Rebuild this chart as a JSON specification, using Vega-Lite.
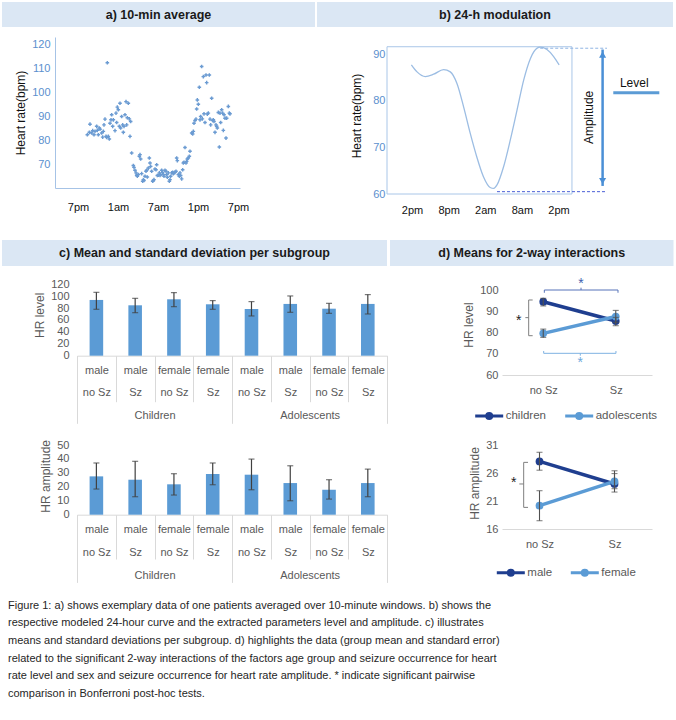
{
"$schema": "https://vega.github.io/schema/vega-lite/v6.json",
"padding": {"left": 2, "top": 2, "right": 0, "bottom": 2},
"config": {"view": {"stroke": null}, "font": "Liberation Sans", "axis": {"grid": false, "labelOverlap": false, "labelFont": "Liberation Sans", "titleFont": "Liberation Sans", "titleFontWeight": "normal"}, "legend": {"labelFont": "Liberation Sans"}},
"datasets": {
"a": [{"h":1.4,"v":82.2},{"h":1.7,"v":83.2},{"h":1.8,"v":86.6},{"h":2.05,"v":82.9},{"h":2.2,"v":83.9},{"h":2.4,"v":82.2},{"h":2.55,"v":83.6},{"h":2.8,"v":85.7},{"h":2.9,"v":84.0},{"h":3.05,"v":82.2},{"h":3.2,"v":85.0},{"h":3.3,"v":84.5},{"h":3.55,"v":82.9},{"h":3.7,"v":81.2},{"h":3.8,"v":83.6},{"h":3.9,"v":86.3},{"h":4.05,"v":88.7},{"h":4.2,"v":81.5},{"h":4.3,"v":81.1},{"h":4.4,"v":112.2},{"h":4.55,"v":81.5},{"h":4.7,"v":80.4},{"h":4.8,"v":87.0},{"h":4.95,"v":88.4},{"h":5.05,"v":90.5},{"h":5.2,"v":85.7},{"h":5.3,"v":88.4},{"h":5.55,"v":83.9},{"h":5.7,"v":91.2},{"h":5.8,"v":87.3},{"h":5.9,"v":93.7},{"h":6.05,"v":92.6},{"h":6.2,"v":85.7},{"h":6.3,"v":95.3},{"h":6.4,"v":85.0},{"h":6.55,"v":89.8},{"h":6.7,"v":86.3},{"h":6.8,"v":83.2},{"h":6.9,"v":85.7},{"h":7.05,"v":90.5},{"h":7.2,"v":96.0},{"h":7.3,"v":86.3},{"h":7.4,"v":89.3},{"h":7.55,"v":95.3},{"h":7.7,"v":88.8},{"h":7.8,"v":81.5},{"h":7.9,"v":87.7},{"h":8.05,"v":74.6},{"h":8.3,"v":69.4},{"h":8.4,"v":68.6},{"h":8.55,"v":67.4},{"h":8.7,"v":66.3},{"h":8.8,"v":65.3},{"h":8.9,"v":64.9},{"h":9.05,"v":65.6},{"h":9.2,"v":73.2},{"h":9.3,"v":73.9},{"h":9.4,"v":72.1},{"h":9.55,"v":66.0},{"h":9.7,"v":62.8},{"h":9.8,"v":63.5},{"h":9.9,"v":63.1},{"h":10.05,"v":64.9},{"h":10.2,"v":67.0},{"h":10.3,"v":67.4},{"h":10.4,"v":64.6},{"h":10.55,"v":68.3},{"h":10.7,"v":72.5},{"h":10.8,"v":70.4},{"h":10.9,"v":69.0},{"h":11.05,"v":67.0},{"h":11.2,"v":62.8},{"h":11.3,"v":63.1},{"h":11.4,"v":63.5},{"h":11.55,"v":67.9},{"h":11.7,"v":67.6},{"h":11.8,"v":69.7},{"h":11.9,"v":65.2},{"h":12.05,"v":65.3},{"h":12.2,"v":66.3},{"h":12.3,"v":65.2},{"h":12.4,"v":65.6},{"h":12.55,"v":67.4},{"h":12.7,"v":66.5},{"h":12.8,"v":65.6},{"h":12.9,"v":64.9},{"h":13.05,"v":67.4},{"h":13.2,"v":67.0},{"h":13.3,"v":65.6},{"h":13.4,"v":64.5},{"h":13.55,"v":66.3},{"h":13.7,"v":62.8},{"h":13.8,"v":63.5},{"h":13.9,"v":64.9},{"h":14.05,"v":66.3},{"h":14.2,"v":66.5},{"h":14.3,"v":66.0},{"h":14.4,"v":66.3},{"h":14.55,"v":66.5},{"h":14.7,"v":67.0},{"h":14.8,"v":72.5},{"h":14.9,"v":71.4},{"h":15.05,"v":65.6},{"h":15.2,"v":64.9},{"h":15.3,"v":66.3},{"h":15.4,"v":65.2},{"h":15.55,"v":63.8},{"h":15.7,"v":67.6},{"h":15.8,"v":70.4},{"h":15.9,"v":70.7},{"h":16.05,"v":76.9},{"h":16.2,"v":70.4},{"h":16.3,"v":71.1},{"h":16.4,"v":72.1},{"h":16.55,"v":72.5},{"h":16.7,"v":73.2},{"h":16.8,"v":75.3},{"h":17.05,"v":82.9},{"h":17.2,"v":82.5},{"h":17.3,"v":83.6},{"h":17.4,"v":87.0},{"h":17.55,"v":88.1},{"h":17.7,"v":88.7},{"h":17.8,"v":92.9},{"h":17.9,"v":96.7},{"h":18.05,"v":94.9},{"h":18.2,"v":102.0},{"h":18.3,"v":88.4},{"h":18.4,"v":89.8},{"h":18.55,"v":110.6},{"h":18.65,"v":88.8},{"h":18.8,"v":106.4},{"h":18.9,"v":90.9},{"h":19.05,"v":87.3},{"h":19.2,"v":107.1},{"h":19.3,"v":103.9},{"h":19.4,"v":90.8},{"h":19.55,"v":91.2},{"h":19.7,"v":107.1},{"h":19.8,"v":88.7},{"h":19.9,"v":86.3},{"h":20.05,"v":97.4},{"h":20.2,"v":88.1},{"h":20.3,"v":88.4},{"h":20.4,"v":87.7},{"h":20.55,"v":83.2},{"h":20.7,"v":86.3},{"h":20.8,"v":85.7},{"h":20.9,"v":85.0},{"h":21.05,"v":91.5},{"h":21.2,"v":77.1},{"h":21.3,"v":91.2},{"h":21.4,"v":87.3},{"h":21.55,"v":92.6},{"h":21.7,"v":91.2},{"h":21.8,"v":84.0},{"h":21.9,"v":90.5},{"h":22.05,"v":89.1},{"h":22.2,"v":80.8},{"h":22.3,"v":89.1},{"h":22.55,"v":94.0},{"h":22.7,"v":91.2},{"h":22.8,"v":90.9}],
"bcurve": [{"h":-0.11,"v":87.7},{"h":0.82,"v":86.2},{"h":2.18,"v":85.2},{"h":3.54,"v":85.7},{"h":5.17,"v":86.7},{"h":6.27,"v":86.2},{"h":7.36,"v":83.7},{"h":8.45,"v":78.7},{"h":9.54,"v":73.0},{"h":10.6,"v":68.0},{"h":11.7,"v":63.7},{"h":12.8,"v":61.4},{"h":13.4,"v":61.2},{"h":13.9,"v":61.9},{"h":15.0,"v":65.85},{"h":16.1,"v":71.6},{"h":17.2,"v":78.0},{"h":18.3,"v":84.5},{"h":19.4,"v":89.1},{"h":20.5,"v":91.3},{"h":21.0,"v":91.5},{"h":22.1,"v":91.0},{"h":23.2,"v":89.5},{"h":24.1,"v":87.7}],
"bframe": [{"x":-4.1,"x2":26.2,"y":60,"y2":91.6}],
"bdash": [{"x":21.0,"x2":31.94,"y":91.28,"c":"#8fb4e3"},{"x":13.92,"x2":31.94,"y":60.5,"c":"#4a5fd6"}],
"barrow": [{"x":31.22,"y":91.0,"y2":61.73}],
"bheads": [{"x":31.22,"y":89.9,"s":"triangle-up"},{"x":31.22,"y":62.8,"s":"triangle-down"}],
"bamp": [{"x":28.93,"y":76.43,"t":"Amplitude"}],
"blevtxt": [{"x":36.41,"y":83.9,"t":"Level"}],
"blevel": [{"x":32.97,"x2":40.51,"y":81.75}],
"bars": [
{"cat":"male|no Sz|Children","grp":"Children","lv":93.7,"lvlo":78.0,"lvhi":106.5,"am":27.5,"amlo":18.4,"amhi":37.1},
{"cat":"male|Sz|Children","grp":"Children","lv":84.7,"lvlo":72.3,"lvhi":96.4,"am":25.1,"amlo":12.9,"amhi":38.3},
{"cat":"female|no Sz|Children","grp":"Children","lv":94.8,"lvlo":82.4,"lvhi":106.0,"am":21.8,"amlo":14.1,"amhi":29.4},
{"cat":"female|Sz|Children","grp":"Children","lv":86.4,"lvlo":78.0,"lvhi":92.6,"am":29.2,"amlo":21.5,"amhi":37.1},
{"cat":"male|no Sz|Adolescents","grp":"Adolescents","lv":78.5,"lvlo":66.8,"lvhi":90.9,"am":28.7,"amlo":17.9,"amhi":39.9},
{"cat":"male|Sz|Adolescents","grp":"Adolescents","lv":87.0,"lvlo":72.9,"lvhi":100.4,"am":22.7,"amlo":10.0,"amhi":35.1},
{"cat":"female|no Sz|Adolescents","grp":"Adolescents","lv":79.0,"lvlo":71.2,"lvhi":88.0,"am":17.9,"amlo":11.2,"amhi":25.1},
{"cat":"female|Sz|Adolescents","grp":"Adolescents","lv":87.0,"lvlo":70.1,"lvhi":102.7,"am":22.7,"amlo":12.9,"amhi":32.7}],
"dlev": [{"s":"children","xv":0.5,"m":94.5,"lo":92.5,"hi":96.1},{"s":"children","xv":1.5,"m":85.4,"lo":83.2,"hi":87.1},{"s":"adolescents","xv":0.5,"m":79.6,"lo":77.7,"hi":81.6},{"s":"adolescents","xv":1.5,"m":87.5,"lo":84.8,"hi":90.4}],
"damp": [{"s":"male","xv":0.5,"m":28.07,"lo":26.5,"hi":29.7},{"s":"male","xv":1.5,"m":24.04,"lo":22.6,"hi":26.4},{"s":"female","xv":0.5,"m":20.16,"lo":17.48,"hi":22.84},{"s":"female","xv":1.5,"m":24.5,"lo":23.2,"hi":25.9}],
"dlevbr": [{"x":0.515,"x2":1.531,"y":100,"y2":100,"c":"#5673b9"},{"x":0.515,"x2":0.515,"y":100,"y2":98.7,"c":"#5673b9"},{"x":1.531,"x2":1.531,"y":100,"y2":98.7,"c":"#5673b9"},{"x":1.021,"x2":1.021,"y":100,"y2":101.1,"c":"#5673b9"},{"x":0.506,"x2":1.503,"y":70.2,"y2":70.2,"c":"#7fb2e2"},{"x":0.506,"x2":0.506,"y":70.2,"y2":71.3,"c":"#7fb2e2"},{"x":1.503,"x2":1.503,"y":70.2,"y2":71.3,"c":"#7fb2e2"},{"x":1.011,"x2":1.011,"y":70.2,"y2":69.1,"c":"#7fb2e2"},{"x":0.299,"x2":0.299,"y":95.3,"y2":78.5,"c":"#7f7f7f"},{"x":0.299,"x2":0.354,"y":95.3,"y2":95.3,"c":"#7f7f7f"},{"x":0.299,"x2":0.354,"y":78.5,"y2":78.5,"c":"#7f7f7f"},{"x":0.299,"x2":0.253,"y":87.0,"y2":87.0,"c":"#7f7f7f"}],
"dlevstar": [{"x":1.021,"y":104.2,"c":"#3f5fae"},{"x":1.011,"y":67.1,"c":"#6fa8dc"},{"x":0.161,"y":87.0,"c":"#222222"}],
"dampbr": [{"x":0.289,"x2":0.289,"y":27.9,"y2":19.86,"c":"#7f7f7f"},{"x":0.289,"x2":0.347,"y":27.9,"y2":27.9,"c":"#7f7f7f"},{"x":0.289,"x2":0.347,"y":19.86,"y2":19.86,"c":"#7f7f7f"},{"x":0.289,"x2":0.231,"y":24.04,"y2":24.04,"c":"#7f7f7f"}],
"dampstar": [{"x":0.156,"y":24.75,"c":"#222222"}],
"blank": [{"t": ""}]
},
"title": {"text": ["Figure 1: a) shows exemplary data of one patients averaged over 10-minute windows. b) shows the", "respective modeled 24-hour curve and the extracted parameters level and amplitude. c) illustrates", "means and standard deviations per subgroup. d) highlights the data (group mean and standard error)", "related to the significant 2-way interactions of the factors age group and seizure occurrence for heart", "rate level and sex and seizure occurrence for heart rate amplitude. * indicate significant pairwise", "comparison in Bonferroni post-hoc tests."], "orient": "bottom", "anchor": "start", "align": "left", "offset": 17, "dx": 6, "font": "Liberation Sans", "fontSize": 11, "fontWeight": "normal", "color": "#262626", "lineHeight": 17.6, "frame": "bounds"},
"spacing": 0,
"resolve": {"scale": {"color": "independent"}, "legend": {"color": "independent"}},
"vconcat": [
 {"bounds": "flush", "spacing": 0, "hconcat": [
  {"width": 313, "height": 25, "view": {"fill": "#dbe7f4", "stroke": null}, "data": {"values": [{"t": "a) 10-min average"}]}, "mark": {"type": "text", "fontWeight": "bold", "fontSize": 12.5, "color": "#1a1a1a"}, "encoding": {"text": {"field": "t"}}},
  {"width": 2, "height": 35, "data": {"name": "blank"}, "mark": "text", "encoding": {"text": {"field": "t"}}},
  {"width": 356, "height": 25, "view": {"fill": "#dbe7f4", "stroke": null}, "data": {"values": [{"t": "b) 24-h modulation"}]}, "mark": {"type": "text", "fontWeight": "bold", "fontSize": 12.5, "color": "#1a1a1a"}, "encoding": {"text": {"field": "t"}}}
 ]},
 {"bounds": "flush", "spacing": 0, "hconcat": [
  {"width": 53, "height": 203, "data": {"name": "blank"}, "mark": "text", "encoding": {"text": {"field": "t"}}},
  {"width": 185, "height": 151, "data": {"name": "a"},
   "mark": {"type": "point", "shape": "cross", "filled": true, "size": 13, "color": "#6b9bd2", "opacity": 1},
   "encoding": {
    "x": {"field": "h", "type": "quantitative", "scale": {"domain": [-3.45, 24.3], "nice": false, "zero": false}, "axis": {"title": null, "values": [0, 6, 12, 18, 24], "tickCount": 10, "labelExpr": "['7pm','1am','7am','1pm','7pm'][round(datum.value/6)]", "ticks": false, "domainColor": "#a6c3e6", "labelPadding": 13, "labelFontSize": 11, "labelColor": "#111111"}},
    "y": {"field": "v", "type": "quantitative", "scale": {"domain": [60, 122.92], "nice": false, "zero": false}, "axis": {"title": "Heart rate(bpm)", "values": [70, 80, 90, 100, 110, 120], "tickCount": 10, "ticks": false, "domainColor": "#a6c3e6", "labelPadding": 5, "labelFontSize": 11, "labelColor": "#5b8fce", "titleFontSize": 12, "titleColor": "#111111", "titlePadding": 4}}
   }},
  {"width": 146.7, "height": 20, "data": {"name": "blank"}, "mark": "text", "encoding": {"text": {"field": "t"}}},
  {"width": 275.3, "height": 157,
   "layer": [
    {"data": {"name": "bframe"}, "mark": {"type": "rect", "fillOpacity": 0, "stroke": "#a9c6e8", "strokeWidth": 1},
     "encoding": {"x": {"field": "x", "type": "quantitative", "scale": {"domain": [-4.1, 41], "nice": false, "zero": false}, "axis": {"title": null, "values": [0, 6, 12, 18, 24], "tickCount": 10, "labelExpr": "['2pm','8pm','2am','8am','2pm'][round(datum.value/6)]", "ticks": false, "domain": false, "labelPadding": 10, "labelFontSize": 11, "labelColor": "#111111"}}, "x2": {"field": "x2"},
      "y": {"field": "y", "type": "quantitative", "scale": {"domain": [60, 93.69], "nice": false, "zero": false}, "axis": {"title": "Heart rate(bpm)", "values": [60, 70, 80, 90], "tickCount": 10, "ticks": false, "domain": false, "labelPadding": 2, "labelFontSize": 11, "labelColor": "#5b8fce", "titleFontSize": 12, "titleColor": "#111111", "titlePadding": 9}}, "y2": {"field": "y2"}}},
    {"data": {"name": "bcurve"}, "mark": {"type": "line", "interpolate": "monotone", "color": "#9cbde3", "strokeWidth": 1.3},
     "encoding": {"x": {"field": "h", "type": "quantitative"}, "y": {"field": "v", "type": "quantitative"}}},
    {"data": {"name": "bdash"}, "mark": {"type": "rule", "strokeDash": [3, 2], "strokeWidth": 1},
     "encoding": {"x": {"field": "x", "type": "quantitative"}, "x2": {"field": "x2"}, "y": {"field": "y", "type": "quantitative"}, "color": {"field": "c", "type": "nominal", "scale": null}}},
    {"data": {"name": "barrow"}, "mark": {"type": "rule", "color": "#4a8fd6", "strokeWidth": 2.5},
     "encoding": {"x": {"field": "x", "type": "quantitative"}, "y": {"field": "y", "type": "quantitative"}, "y2": {"field": "y2"}}},
    {"data": {"name": "bheads"}, "mark": {"type": "point", "filled": true, "color": "#4a8fd6", "size": 50, "opacity": 1},
     "encoding": {"x": {"field": "x", "type": "quantitative"}, "y": {"field": "y", "type": "quantitative"}, "shape": {"field": "s", "type": "nominal", "scale": null}}},
    {"data": {"name": "bamp"}, "mark": {"type": "text", "angle": 270, "fontSize": 12, "color": "#111111"},
     "encoding": {"x": {"field": "x", "type": "quantitative"}, "y": {"field": "y", "type": "quantitative"}, "text": {"field": "t"}}},
    {"data": {"name": "blevtxt"}, "mark": {"type": "text", "fontSize": 12, "color": "#111111"},
     "encoding": {"x": {"field": "x", "type": "quantitative"}, "y": {"field": "y", "type": "quantitative"}, "text": {"field": "t"}}},
    {"data": {"name": "blevel"}, "mark": {"type": "rule", "color": "#5b9bd5", "strokeWidth": 3},
     "encoding": {"x": {"field": "x", "type": "quantitative"}, "x2": {"field": "x2"}, "y": {"field": "y", "type": "quantitative"}}}
   ]}
 ]},
 {"bounds": "flush", "spacing": 0, "hconcat": [
  {"width": 385, "height": 26, "view": {"fill": "#dbe7f4", "stroke": null}, "data": {"values": [{"t": "c) Mean and standard deviation per subgroup"}]}, "mark": {"type": "text", "fontWeight": "bold", "fontSize": 12.5, "color": "#1a1a1a"}, "encoding": {"text": {"field": "t"}}},
  {"width": 2.5, "height": 34, "data": {"name": "blank"}, "mark": "text", "encoding": {"text": {"field": "t"}}},
  {"width": 283.5, "height": 26, "view": {"fill": "#dbe7f4", "stroke": null}, "data": {"values": [{"t": "d) Means for 2-way interactions"}]}, "mark": {"type": "text", "fontWeight": "bold", "fontSize": 12.5, "color": "#1a1a1a"}, "encoding": {"text": {"field": "t"}}}
 ]},
 {"bounds": "flush", "spacing": 0, "resolve": {"scale": {"color": "independent"}, "legend": {"color": "independent"}}, "hconcat": [
  {"width": 74.5, "height": 162.3, "data": {"name": "blank"}, "mark": "text", "encoding": {"text": {"field": "t"}}},
  {"width": 310.2, "height": 81.7, "data": {"name": "bars"},
   "layer": [
    {"layer": [
     {"mark": {"type": "bar", "color": "#5b9bd5", "width": {"band": 0.35}},
      "encoding": {"x": {"field": "cat", "type": "nominal", "sort": null, "scale": {"paddingInner": 0, "paddingOuter": 0}, "axis": {"title": null, "labelExpr": "isValid(datum.value) ? [split(datum.value,'|')[0], split(datum.value,'|')[1]] : ''", "labelAngle": 0, "labelBaseline": "top", "labelLineHeight": 22.6, "labelPadding": -37.7, "labelFontSize": 11, "labelColor": "#595959", "ticks": true, "tickBand": "extent", "tickSize": 46, "tickColor": "#d9d9d9", "domainColor": "#d9d9d9", "labelBound": false}},
       "y": {"field": "lv", "type": "quantitative", "scale": {"domain": [0, 137.3], "nice": false}, "axis": {"title": "HR level", "values": [0, 20, 40, 60, 80, 100, 120], "tickCount": 10, "domain": false, "ticks": false, "labelPadding": 8, "labelFontSize": 11, "labelColor": "#595959", "titleFontSize": 12, "titleColor": "#595959", "titlePadding": 4}}}},
     {"mark": {"type": "rule", "color": "#404040", "strokeWidth": 1.2},
      "encoding": {"x": {"field": "cat", "type": "nominal", "sort": null}, "y": {"field": "lvlo", "type": "quantitative"}, "y2": {"field": "lvhi"}}},
     {"mark": {"type": "tick", "color": "#404040", "thickness": 1.2, "size": 6},
      "encoding": {"x": {"field": "cat", "type": "nominal", "sort": null}, "y": {"field": "lvlo", "type": "quantitative"}}},
     {"mark": {"type": "tick", "color": "#404040", "thickness": 1.2, "size": 6},
      "encoding": {"x": {"field": "cat", "type": "nominal", "sort": null}, "y": {"field": "lvhi", "type": "quantitative"}}}
    ]},
    {"mark": {"type": "text", "text": ""},
     "encoding": {"x": {"field": "grp", "type": "nominal", "sort": null, "scale": {"paddingInner": 0, "paddingOuter": 0}, "axis": {"orient": "bottom", "title": null, "domain": false, "ticks": true, "tickBand": "extent", "tickSize": 67.6, "tickColor": "#d9d9d9", "labelPadding": -13.6, "labelBaseline": "top", "labelFontSize": 11, "labelColor": "#595959", "labelAngle": 0}}}}
   ],
   "resolve": {"scale": {"x": "independent"}, "axis": {"x": "independent"}}},
  {"width": 113.3, "height": 20, "data": {"name": "blank"}, "mark": "text", "encoding": {"text": {"field": "t"}}},
  {"width": 150, "height": 101,
   "layer": [
    {"data": {"name": "dlevbr"}, "mark": {"type": "rule", "strokeWidth": 1},
     "encoding": {"x": {"field": "x", "type": "quantitative", "scale": {"domain": [-0.069, 2], "nice": false, "zero": false}, "axis": {"title": null, "values": [0.5, 1.5], "tickCount": 10, "labelExpr": "datum.value < 1 ? 'no Sz' : 'Sz'", "ticks": false, "domainColor": "#d9d9d9", "labelPadding": 9, "labelFontSize": 11, "labelColor": "#595959"}}, "x2": {"field": "x2"},
      "y": {"field": "y", "type": "quantitative", "scale": {"domain": [60, 107.53], "nice": false, "zero": false}, "axis": {"title": "HR level", "values": [60, 70, 80, 90, 100], "tickCount": 10, "domain": false, "ticks": false, "labelPadding": 4, "labelFontSize": 11, "labelColor": "#595959", "titleFontSize": 12, "titleColor": "#595959", "titlePadding": 4}}, "y2": {"field": "y2"},
      "color": {"field": "c", "type": "nominal", "scale": null}}},
    {"data": {"name": "dlevstar"}, "mark": {"type": "text", "text": "*", "fontSize": 14, "dy": 3},
     "encoding": {"x": {"field": "x", "type": "quantitative"}, "y": {"field": "y", "type": "quantitative"}, "color": {"field": "c", "type": "nominal", "scale": null}}},
    {"data": {"name": "dlev"}, "mark": {"type": "line", "strokeWidth": 3.5},
     "encoding": {"x": {"field": "xv", "type": "quantitative"}, "y": {"field": "m", "type": "quantitative"},
      "color": {"field": "s", "type": "nominal", "sort": null, "scale": {"domain": ["children", "adolescents"], "range": ["#1f3e8f", "#5b9bd5"]}, "legend": {"orient": "none", "legendX": -28.3, "legendY": 126, "direction": "horizontal", "title": null, "symbolType": "M-1,0L1,0M0.18,0A0.18,0.18,0,1,1,-0.18,0A0.18,0.18,0,1,1,0.18,0M0.07,0A0.07,0.07,0,1,1,-0.07,0A0.07,0.07,0,1,1,0.07,0", "symbolSize": 784, "symbolStrokeWidth": 3, "labelFontSize": 11.5, "labelColor": "#595959", "labelOffset": 1, "columnPadding": 12, "padding": 0}}}},
    {"data": {"name": "dlev"}, "mark": {"type": "point", "shape": "circle", "filled": true, "size": 60, "opacity": 1},
     "encoding": {"x": {"field": "xv", "type": "quantitative"}, "y": {"field": "m", "type": "quantitative"}, "color": {"field": "s", "type": "nominal", "sort": null, "legend": null}}},
    {"data": {"name": "dlev"}, "mark": {"type": "rule", "color": "#505050", "strokeWidth": 1.1},
     "encoding": {"x": {"field": "xv", "type": "quantitative"}, "y": {"field": "lo", "type": "quantitative"}, "y2": {"field": "hi"}}},
    {"data": {"name": "dlev"}, "mark": {"type": "tick", "orient": "horizontal", "color": "#505050", "thickness": 1.1, "size": 6},
     "encoding": {"x": {"field": "xv", "type": "quantitative"}, "y": {"field": "lo", "type": "quantitative"}}},
    {"data": {"name": "dlev"}, "mark": {"type": "tick", "orient": "horizontal", "color": "#505050", "thickness": 1.1, "size": 6},
     "encoding": {"x": {"field": "xv", "type": "quantitative"}, "y": {"field": "hi", "type": "quantitative"}}}
   ]}
 ]},
 {"bounds": "flush", "spacing": 0, "resolve": {"scale": {"color": "independent"}, "legend": {"color": "independent"}}, "hconcat": [
  {"width": 74.5, "height": 20, "data": {"name": "blank"}, "mark": "text", "encoding": {"text": {"field": "t"}}},
  {"width": 310.2, "height": 77.7, "data": {"name": "bars"},
   "layer": [
    {"layer": [
     {"mark": {"type": "bar", "color": "#5b9bd5", "width": {"band": 0.35}},
      "encoding": {"x": {"field": "cat", "type": "nominal", "sort": null, "scale": {"paddingInner": 0, "paddingOuter": 0}, "axis": {"title": null, "labelExpr": "isValid(datum.value) ? [split(datum.value,'|')[0], split(datum.value,'|')[1]] : ''", "labelAngle": 0, "labelBaseline": "top", "labelLineHeight": 23, "labelPadding": -35.3, "labelFontSize": 11, "labelColor": "#595959", "ticks": true, "tickBand": "extent", "tickSize": 44.3, "tickColor": "#d9d9d9", "domainColor": "#d9d9d9", "labelBound": false}},
       "y": {"field": "am", "type": "quantitative", "scale": {"domain": [0, 55.74], "nice": false}, "axis": {"title": "HR amplitude", "values": [0, 10, 20, 30, 40, 50], "tickCount": 10, "domain": false, "ticks": false, "labelPadding": 8, "labelFontSize": 11, "labelColor": "#595959", "titleFontSize": 12, "titleColor": "#595959", "titlePadding": 4}}}},
     {"mark": {"type": "rule", "color": "#404040", "strokeWidth": 1.2},
      "encoding": {"x": {"field": "cat", "type": "nominal", "sort": null}, "y": {"field": "amlo", "type": "quantitative"}, "y2": {"field": "amhi"}}},
     {"mark": {"type": "tick", "color": "#404040", "thickness": 1.2, "size": 6},
      "encoding": {"x": {"field": "cat", "type": "nominal", "sort": null}, "y": {"field": "amlo", "type": "quantitative"}}},
     {"mark": {"type": "tick", "color": "#404040", "thickness": 1.2, "size": 6},
      "encoding": {"x": {"field": "cat", "type": "nominal", "sort": null}, "y": {"field": "amhi", "type": "quantitative"}}}
    ]},
    {"mark": {"type": "text", "text": ""},
     "encoding": {"x": {"field": "grp", "type": "nominal", "sort": null, "scale": {"paddingInner": 0, "paddingOuter": 0}, "axis": {"orient": "bottom", "title": null, "domain": false, "ticks": true, "tickBand": "extent", "tickSize": 67.7, "tickColor": "#d9d9d9", "labelPadding": -13.4, "labelBaseline": "top", "labelFontSize": 11, "labelColor": "#595959", "labelAngle": 0}}}}
   ],
   "resolve": {"scale": {"x": "independent"}, "axis": {"x": "independent"}}},
  {"width": 113.3, "height": 20, "data": {"name": "blank"}, "mark": "text", "encoding": {"text": {"field": "t"}}},
  {"width": 150, "height": 92,
   "layer": [
    {"data": {"name": "dampbr"}, "mark": {"type": "rule", "strokeWidth": 1},
     "encoding": {"x": {"field": "x", "type": "quantitative", "scale": {"domain": [0, 2], "nice": false, "zero": false}, "axis": {"title": null, "values": [0.5, 1.5], "tickCount": 10, "labelExpr": "datum.value < 1 ? 'no Sz' : 'Sz'", "ticks": false, "domainColor": "#d9d9d9", "labelPadding": 9, "labelFontSize": 11, "labelColor": "#595959"}}, "x2": {"field": "x2"},
      "y": {"field": "y", "type": "quantitative", "scale": {"domain": [16, 32.43], "nice": false, "zero": false}, "axis": {"title": "HR amplitude", "values": [16, 21, 26, 31], "tickCount": 10, "domain": false, "ticks": false, "labelPadding": 4, "labelFontSize": 11, "labelColor": "#595959", "titleFontSize": 12, "titleColor": "#595959", "titlePadding": 4}}, "y2": {"field": "y2"},
      "color": {"field": "c", "type": "nominal", "scale": null}}},
    {"data": {"name": "dampstar"}, "mark": {"type": "text", "text": "*", "fontSize": 14, "dy": 3},
     "encoding": {"x": {"field": "x", "type": "quantitative"}, "y": {"field": "y", "type": "quantitative"}, "color": {"field": "c", "type": "nominal", "scale": null}}},
    {"data": {"name": "damp"}, "mark": {"type": "line", "strokeWidth": 3.5},
     "encoding": {"x": {"field": "xv", "type": "quantitative"}, "y": {"field": "m", "type": "quantitative"},
      "color": {"field": "s", "type": "nominal", "sort": null, "scale": {"domain": ["male", "female"], "range": ["#1f3e8f", "#5b9bd5"]}, "legend": {"orient": "none", "legendX": -6.7, "legendY": 119.7, "direction": "horizontal", "title": null, "symbolType": "M-1,0L1,0M0.18,0A0.18,0.18,0,1,1,-0.18,0A0.18,0.18,0,1,1,0.18,0M0.07,0A0.07,0.07,0,1,1,-0.07,0A0.07,0.07,0,1,1,0.07,0", "symbolSize": 784, "symbolStrokeWidth": 3, "labelFontSize": 11.5, "labelColor": "#595959", "labelOffset": 1, "columnPadding": 12, "padding": 0}}}},
    {"data": {"name": "damp"}, "mark": {"type": "point", "shape": "circle", "filled": true, "size": 60, "opacity": 1},
     "encoding": {"x": {"field": "xv", "type": "quantitative"}, "y": {"field": "m", "type": "quantitative"}, "color": {"field": "s", "type": "nominal", "sort": null, "legend": null}}},
    {"data": {"name": "damp"}, "mark": {"type": "rule", "color": "#505050", "strokeWidth": 1.1},
     "encoding": {"x": {"field": "xv", "type": "quantitative"}, "y": {"field": "lo", "type": "quantitative"}, "y2": {"field": "hi"}}},
    {"data": {"name": "damp"}, "mark": {"type": "tick", "orient": "horizontal", "color": "#505050", "thickness": 1.1, "size": 6},
     "encoding": {"x": {"field": "xv", "type": "quantitative"}, "y": {"field": "lo", "type": "quantitative"}}},
    {"data": {"name": "damp"}, "mark": {"type": "tick", "orient": "horizontal", "color": "#505050", "thickness": 1.1, "size": 6},
     "encoding": {"x": {"field": "xv", "type": "quantitative"}, "y": {"field": "hi", "type": "quantitative"}}}
   ]}
 ]}
]
}
